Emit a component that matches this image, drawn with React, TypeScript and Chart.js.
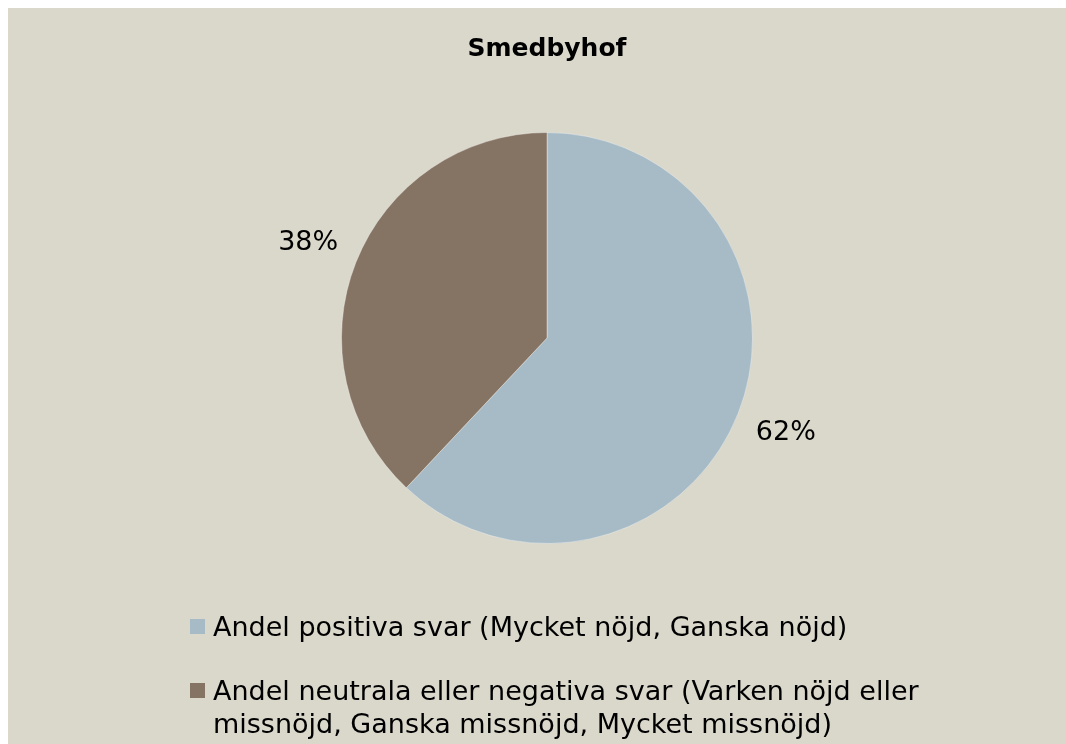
import React, { useEffect, useRef } from "react";
import { Chart, registerables } from "chart.js";

Chart.register(...registerables);

const chartTitle = "Smedbyhof";
const categories = [
  "Andel positiva svar (Mycket nöjd, Ganska nöjd)",
  "Andel neutrala eller negativa svar (Varken nöjd eller missnöjd, Ganska missnöjd, Mycket missnöjd)",
];
const values = [62, 38];
const sliceColors = ["#A7BBC6", "#857464"];
const background = "#DAD7CB";

const FONT = "'DejaVu Sans', sans-serif";
const W = 1058;
const H = 736;

const bgPlugin = {
  id: "bgFill",
  beforeDraw(chart: any) {
    const ctx = chart.ctx;
    ctx.save();
    ctx.fillStyle = background;
    ctx.fillRect(0, 0, chart.width, chart.height);
    ctx.restore();
  },
};

const pctLabels = {
  id: "pctLabels",
  afterDatasetsDraw(chart: any) {
    const ctx = chart.ctx;
    const meta = chart.getDatasetMeta(0);
    const data = chart.data.datasets[0].data as number[];
    const total = data.reduce((a, b) => a + b, 0);
    ctx.save();
    ctx.font = `27px ${FONT}`;
    ctx.fillStyle = "#000";
    ctx.textAlign = "center";
    ctx.textBaseline = "middle";
    meta.data.forEach((arc: any, i: number) => {
      const p = arc.getProps(["x", "y", "startAngle", "endAngle", "outerRadius"], true);
      const mid = (p.startAngle + p.endAngle) / 2;
      const r = p.outerRadius * 1.25;
      ctx.fillText(
        Math.round((data[i] / total) * 100) + "%",
        p.x + Math.cos(mid) * r,
        p.y + Math.sin(mid) * r
      );
    });
    ctx.restore();
  },
};

const legendPlugin = {
  id: "wrappedLegend",
  afterDraw(chart: any) {
    const ctx = chart.ctx;
    const labels = chart.data.labels as string[];
    const colors = chart.data.datasets[0].backgroundColor as string[];
    ctx.save();
    ctx.font = `27px ${FONT}`;
    ctx.textAlign = "left";
    ctx.textBaseline = "alphabetic";
    const boxX = 182;
    const textX = 205;
    const maxW = 760;
    const lineH = 33;
    let baseline = 628;
    labels.forEach((label, i) => {
      const words = label.split(" ");
      const lines: string[] = [];
      let cur = "";
      words.forEach((w) => {
        const test = cur ? cur + " " + w : w;
        if (ctx.measureText(test).width > maxW && cur) {
          lines.push(cur);
          cur = w;
        } else {
          cur = test;
        }
      });
      if (cur) lines.push(cur);
      ctx.fillStyle = colors[i];
      ctx.fillRect(boxX, baseline - 17, 15, 15);
      ctx.fillStyle = "#000";
      lines.forEach((ln, j) => {
        ctx.fillText(ln, textX, baseline + j * lineH);
      });
      baseline += lines.length * lineH + 31;
    });
    ctx.restore();
  },
};

export default function App() {
  const ref = useRef<HTMLCanvasElement>(null);
  useEffect(() => {
    document.body.style.overflow = "hidden";
    const chart = new Chart(ref.current!, {
      type: "pie",
      data: {
        labels: categories,
        datasets: [
          {
            data: values,
            backgroundColor: sliceColors,
            borderColor: "rgba(255,255,255,0.35)",
            borderWidth: 1,
          },
        ],
      },
      options: {
        animation: false,
        responsive: false,
        layout: { padding: { left: 333, right: 313, top: 0, bottom: 200 } },
        plugins: {
          legend: { display: false },
          tooltip: { enabled: false },
          title: {
            display: true,
            text: chartTitle,
            color: "#000",
            font: { family: FONT, size: 25, weight: "bold" },
            padding: { top: 26, bottom: 68 },
          },
        },
      },
      plugins: [bgPlugin, pctLabels, legendPlugin],
    });
    return () => chart.destroy();
  }, []);
  return (
    <div
      style={{
        position: "fixed",
        left: 8,
        top: 8,
        right: 0,
        bottom: 0,
        background: background,
        overflow: "hidden",
      }}
    >
      <canvas ref={ref} width={W} height={H} style={{ display: "block", width: W, height: H }} />
    </div>
  );
}
